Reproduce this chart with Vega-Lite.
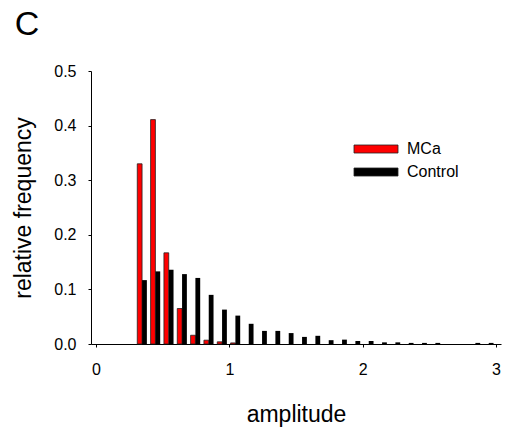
{
  "$schema": "https://vega.github.io/schema/vega-lite/v6.json",
  "width": 410,
  "height": 273,
  "autosize": "none",
  "padding": {"left": 91, "top": 71, "right": 8, "bottom": 84},
  "background": "white",
  "config": {
    "font": "Liberation Sans",
    "view": {"stroke": null},
    "axis": {
      "grid": false,
      "domainColor": "black",
      "domainWidth": 1,
      "tickColor": "black",
      "tickSize": 3,
      "labelColor": "black",
      "titleColor": "black",
      "labelFont": "Liberation Sans",
      "titleFont": "Liberation Sans",
      "labelFontSize": 16,
      "titleFontSize": 23,
      "titleFontWeight": "normal"
    }
  },
  "title": {
    "text": "C",
    "fontSize": 34,
    "fontWeight": "normal",
    "font": "Liberation Sans",
    "color": "black",
    "anchor": "start",
    "frame": "bounds",
    "dx": 2,
    "offset": 21
  },
  "data": {
    "values": [
      {"amplitude": 0.35, "series": "MCa", "freq": 0.330},
      {"amplitude": 0.45, "series": "MCa", "freq": 0.411},
      {"amplitude": 0.55, "series": "MCa", "freq": 0.167},
      {"amplitude": 0.65, "series": "MCa", "freq": 0.065},
      {"amplitude": 0.75, "series": "MCa", "freq": 0.016},
      {"amplitude": 0.85, "series": "MCa", "freq": 0.007},
      {"amplitude": 0.95, "series": "MCa", "freq": 0.004},
      {"amplitude": 1.05, "series": "MCa", "freq": 0.002},
      {"amplitude": 0.35, "series": "Control", "freq": 0.117},
      {"amplitude": 0.45, "series": "Control", "freq": 0.133},
      {"amplitude": 0.55, "series": "Control", "freq": 0.136},
      {"amplitude": 0.65, "series": "Control", "freq": 0.128},
      {"amplitude": 0.75, "series": "Control", "freq": 0.121},
      {"amplitude": 0.85, "series": "Control", "freq": 0.090},
      {"amplitude": 0.95, "series": "Control", "freq": 0.063},
      {"amplitude": 1.05, "series": "Control", "freq": 0.052},
      {"amplitude": 1.15, "series": "Control", "freq": 0.037},
      {"amplitude": 1.25, "series": "Control", "freq": 0.024},
      {"amplitude": 1.35, "series": "Control", "freq": 0.024},
      {"amplitude": 1.45, "series": "Control", "freq": 0.020},
      {"amplitude": 1.55, "series": "Control", "freq": 0.013},
      {"amplitude": 1.65, "series": "Control", "freq": 0.015},
      {"amplitude": 1.75, "series": "Control", "freq": 0.007},
      {"amplitude": 1.85, "series": "Control", "freq": 0.008},
      {"amplitude": 1.95, "series": "Control", "freq": 0.0055},
      {"amplitude": 2.05, "series": "Control", "freq": 0.0055},
      {"amplitude": 2.15, "series": "Control", "freq": 0.003},
      {"amplitude": 2.25, "series": "Control", "freq": 0.003},
      {"amplitude": 2.35, "series": "Control", "freq": 0.002},
      {"amplitude": 2.45, "series": "Control", "freq": 0.002},
      {"amplitude": 2.55, "series": "Control", "freq": 0.002},
      {"amplitude": 2.85, "series": "Control", "freq": 0.002},
      {"amplitude": 2.95, "series": "Control", "freq": 0.002}
    ]
  },
  "encoding": {
    "x": {
      "field": "amplitude",
      "type": "quantitative",
      "scale": {"domain": [0, 3], "nice": false, "zero": true},
      "axis": {
        "values": [0, 0.5, 1, 1.5, 2, 2.5, 3],
        "format": "d",
        "labelExpr": "datum.value % 1 === 0 ? format(datum.value, 'd') : ''",
        "labelPadding": 14,
        "title": "amplitude",
        "titlePadding": 26
      }
    },
    "y": {
      "field": "freq",
      "type": "quantitative",
      "scale": {"domain": [0, 0.5], "nice": false},
      "axis": {
        "values": [0, 0.1, 0.2, 0.3, 0.4, 0.5],
        "format": ".1f",
        "labelPadding": 12,
        "title": "relative frequency",
        "titlePadding": 18
      }
    },
    "color": {
      "field": "series",
      "type": "nominal",
      "scale": {"domain": ["MCa", "Control"], "range": ["#ff0000", "#000000"]},
      "legend": {
        "title": null,
        "orient": "none",
        "legendX": 277,
        "legendY": 70,
        "padding": 0,
        "symbolType": "M-5.5,-1H5.5V1H-5.5Z",
        "symbolSize": 64,
        "symbolStrokeColor": "#222",
        "symbolStrokeWidth": 0.8,
        "symbolOpacity": 1,
        "labelFont": "Liberation Sans",
        "labelFontSize": 16,
        "labelColor": "black",
        "labelOffset": 23,
        "rowPadding": 7
      }
    }
  },
  "layer": [
    {
      "transform": [{"filter": "datum.series === 'MCa'"}],
      "mark": {"type": "bar", "width": 4.8, "xOffset": -3.0, "stroke": "#222", "strokeWidth": 0.8}
    },
    {
      "transform": [{"filter": "datum.series === 'Control'"}],
      "mark": {"type": "bar", "width": 4.8, "xOffset": 1.8}
    }
  ]
}
